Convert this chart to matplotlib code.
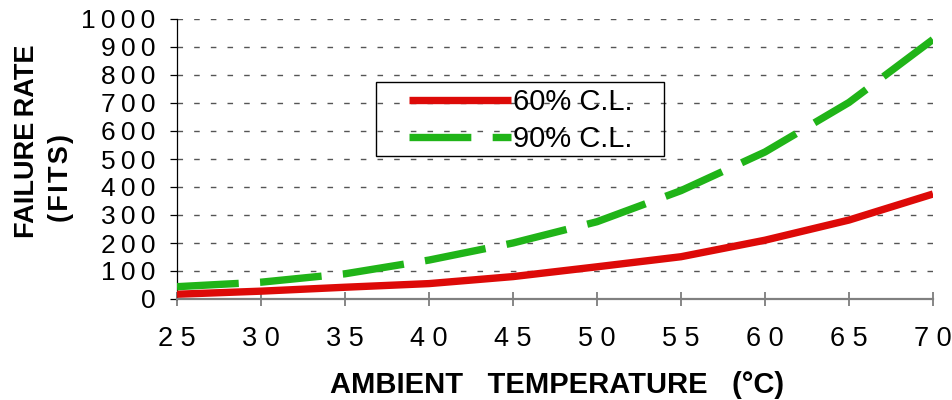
import matplotlib
matplotlib.use("Agg")
import matplotlib.pyplot as plt
from matplotlib.patches import Rectangle

temps = [25, 30, 35, 40, 45, 50, 55, 60, 65, 70]
cl60 = [17, 28, 42, 55, 80, 115, 151, 210, 282, 375]
cl90 = [44, 60, 90, 139, 200, 276, 387, 525, 702, 927]
xtick_vals = [25, 30, 35, 40, 45, 50, 55, 60, 65, 70]
ytick_vals = [0, 100, 200, 300, 400, 500, 600, 700, 800, 900, 1000]
series_labels = ["60% C.L.", "90% C.L."]

W, H = 953, 400
fig = plt.figure(figsize=(W / 100, H / 100), dpi=100)
fam = ['Liberation Sans', 'DejaVu Sans']
plt.rcParams['font.family'] = fam

ax = fig.add_axes([177 / W, 1 - 299 / H, (933 - 177) / W, (299 - 19) / H])

red = '#DD0A08'
green = '#20B418'
lw = 5.3
ax.plot(temps, cl60, color=red, lw=lw, solid_capstyle='butt', label=series_labels[0], zorder=3)
ax.plot(temps, cl90, color=green, lw=lw, dash_capstyle='butt',
        dashes=(8.4, 2.9), label=series_labels[1], zorder=3)

ax.set_xlim(25, 70)
ax.set_ylim(0, 1000)

for s in ['top', 'right']:
    ax.spines[s].set_visible(False)
ax.spines['left'].set_color('black')
ax.spines['left'].set_linewidth(0.9)
ax.spines['bottom'].set_color('#808080')
ax.spines['bottom'].set_linewidth(1.6)
ax.spines['bottom'].set_zorder(4)

ax.set_xticks(xtick_vals)
ax.set_xticklabels([" ".join(str(v)) for v in xtick_vals], fontsize=19.5, family=fam)
ax.set_yticks(ytick_vals)
ax.set_yticklabels(["\u2009".join(str(v)) for v in ytick_vals], fontsize=19, family=fam)

ax.tick_params(axis='x', direction='inout', length=10.5, width=1.1, color='#666666', pad=14.5)
ax.tick_params(axis='y', direction='out', length=5, width=0.9, color='black', pad=10.5)

ax.yaxis.grid(True, color='#555555', lw=1.0, dashes=(4, 8))
ax.set_axisbelow(True)

fig.text(557 / W, 1 - 385 / H, "AMBIENT   TEMPERATURE   (°C)", fontsize=21,
         fontweight='bold', ha='center', va='center', family=fam)
fig.text(27 / W, 1 - 141 / H, "FAILURE\u2009RATE", fontsize=19.5, fontweight='bold',
         rotation=90, ha='center', va='center', family=fam)
fig.text(61 / W, 1 - 178 / H, "(\u200aF\u200aI\u200aT\u200aS\u200a)", fontsize=19.5, fontweight='bold',
         rotation=90, ha='center', va='center', family=fam)

# legend frame
fig.patches.append(Rectangle((376 / W, 1 - 156 / H), 288 / W, 74 / H,
                             transform=fig.transFigure, fill=False,
                             edgecolor='black', lw=1.0, zorder=5))
leg = ax.legend(loc='upper left', bbox_to_anchor=(409 / W, 1 - 88 / H),
                bbox_transform=fig.transFigure, frameon=False,
                handlelength=3.5, handletextpad=0.07, labelspacing=0.3,
                borderpad=0, borderaxespad=0, prop={'family': fam, 'size': 21})

fig.savefig("out.png", dpi=100)
